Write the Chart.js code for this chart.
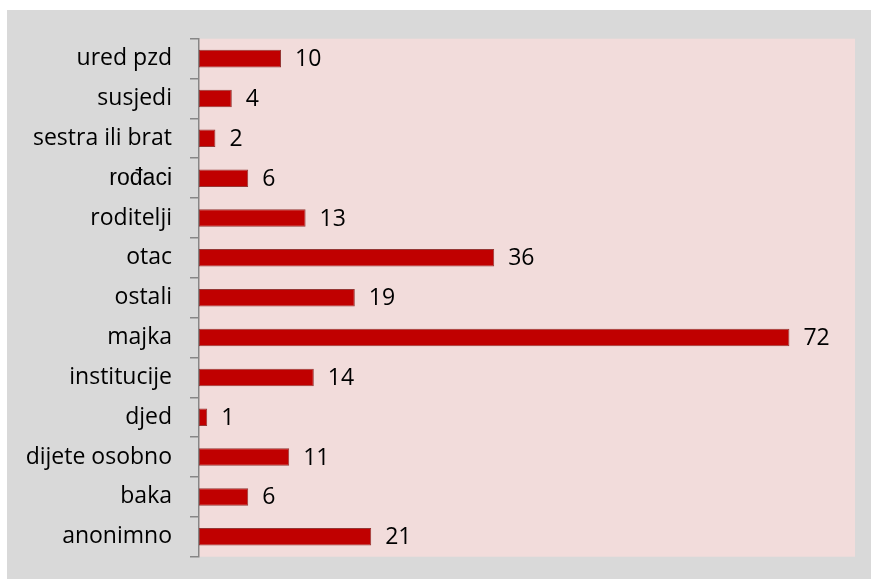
<!DOCTYPE html>
<html>
<head>
<meta charset="utf-8">
<script src="https://cdn.jsdelivr.net/npm/chart.js@4"></script>
<style>
  html, body { margin:0; padding:0; background:#ffffff; }
  #wrap { position:absolute; left:7px; top:10px; width:864px; height:569px; }
</style>
</head>
<body>
<div id="wrap"><canvas id="chart"></canvas></div>
<script>
const categories = ['ured pzd','susjedi','sestra ili brat','rođaci','roditelji','otac','ostali','majka','institucije','djed','dijete osobno','baka','anonimno'];
const values = [10, 4, 2, 6, 13, 36, 19, 72, 14, 1, 11, 6, 21];

// Background: gray frame + pink plot area
const bgPlugin = {
    id:'bg',
    beforeDraw(chart){
        const c = chart.ctx, a = chart.chartArea;
        c.save();
        c.fillStyle = '#d9d9d9';
        c.fillRect(0, 0, chart.width, chart.height);
        c.fillStyle = '#f2dcdb';
        c.fillRect(a.left, a.top, a.right - a.left, a.bottom - a.top);
        c.restore();
    }
};

// Value labels at the end of each bar
const valueLabels = {
    id:'valueLabels',
    afterDatasetsDraw(chart){
        const c = chart.ctx;
        c.save();
        c.font = '23px "Open Sans"';
        c.fillStyle = '#000000';
        c.textAlign = 'left';
        c.textBaseline = 'middle';
        chart.getDatasetMeta(0).data.forEach((bar, i) => {
            c.fillText(values[i], bar.x + 14, bar.y + 1);
        });
        c.restore();
    }
};

new Chart(document.getElementById('chart').getContext('2d'), {
    type:'bar',
    data:{
        labels: categories,
        datasets:[{
            data: values,
            backgroundColor:'#c00000',
            borderColor:'#953735',
            borderWidth:1,
            borderSkipped:false,
            categoryPercentage:1,
            barPercentage:0.44
        }]
    },
    options:{
        indexAxis:'y',
        responsive:true,
        maintainAspectRatio:false,
        animation:false,
        layout:{padding:{top:28.7, right:16, bottom:22.3, left:0}},
        plugins:{legend:{display:false}, tooltip:{enabled:false}},
        scales:{
            x:{display:false, min:0, max:80},
            y:{
                afterFit(scale){
                    scale.width = 192;
                    scale.paddingTop = 0;
                    scale.paddingBottom = 0;
                },
                ticks:{
                    color:'#000000',
                    padding:18,
                    // 'rođaci' is set in a different typeface in the original
                    font: ctx => ctx.index === 3
                        ? {family:'"Liberation Sans"', size:23}
                        : {family:'"Open Sans"', size:23}
                },
                grid:{drawOnChartArea:false, color:'#868686', tickLength:9, lineWidth:1.5},
                border:{color:'#868686', width:1.5}
            }
        }
    },
    plugins:[bgPlugin, valueLabels]
});
</script>
</body>
</html>
